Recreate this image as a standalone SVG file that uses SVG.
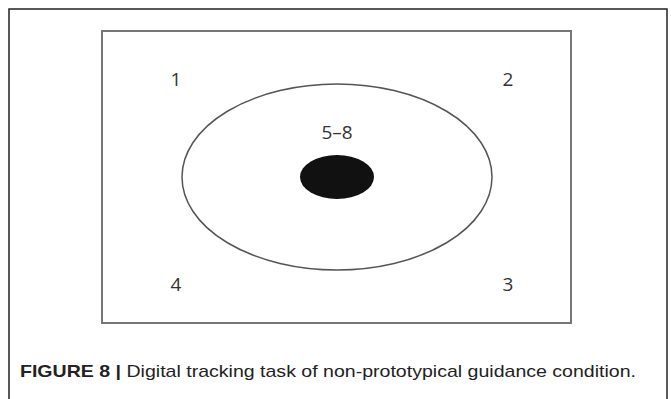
<svg xmlns="http://www.w3.org/2000/svg" width="671" height="399" viewBox="0 0 671 399">
<style>
.lbl{font-family:"Open Sans","DejaVu Sans",sans-serif;font-size:19px;fill:#333}
.cap{font-family:"Liberation Sans",Arial,sans-serif;font-size:17px;fill:#222}
</style>
<rect width="671" height="399" fill="#fff"/>
<path d="M9,399 V9 H667 V399" fill="none" stroke="#222" stroke-width="1.5"/>
<g id="frame"><rect x="102" y="31" width="469" height="292" fill="#fff" stroke="#777" stroke-width="2"/></g>
<g id="outer-ellipse"><ellipse cx="337" cy="177" rx="155" ry="93" fill="none" stroke="#555" stroke-width="1.5"/></g>
<g id="target"><ellipse cx="337" cy="177" rx="37" ry="22" fill="#111"/></g>
<g id="n1"><text class="lbl" x="176" y="86" text-anchor="middle">1</text></g>
<g id="n2"><text class="lbl" x="508" y="86" text-anchor="middle">2</text></g>
<g id="n3"><text class="lbl" x="508" y="291" text-anchor="middle">3</text></g>
<g id="n4"><text class="lbl" x="176" y="291" text-anchor="middle">4</text></g>
<g id="n58"><text class="lbl" x="337" y="139" text-anchor="middle">5–8</text></g>
<g id="connectors"></g>
<text class="cap" x="20" y="377" textLength="616" lengthAdjust="spacingAndGlyphs"><tspan font-weight="bold">FIGURE 8 |</tspan> Digital tracking task of non-prototypical guidance condition.</text>
</svg>
